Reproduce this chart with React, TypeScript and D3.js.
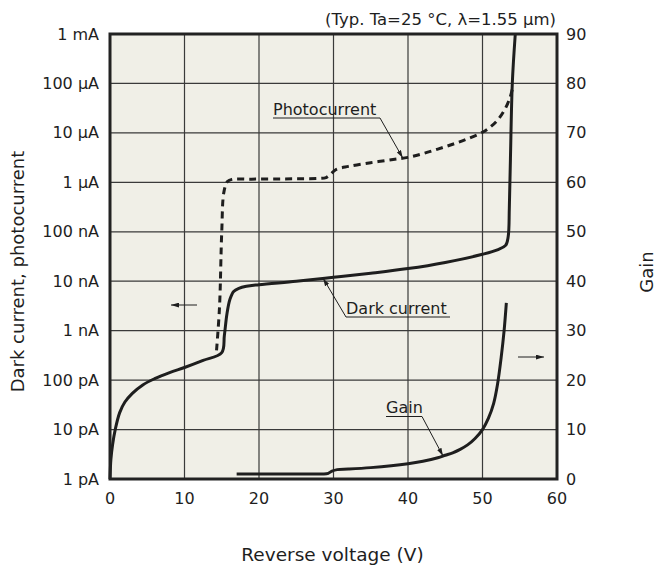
import * as d3 from 'd3';

// Reverse voltage (V) vs dark current (A)
const darkV = [0, 0.12, 0.35, 0.7, 1.3, 2, 3, 4.4, 6, 8, 10, 12.5, 15, 15.35, 15.7, 16.1, 16.6, 17.3, 18.3, 20, 25, 30, 35, 40, 45, 50, 52, 53.1, 53.45, 53.6, 53.75, 54.0, 54.4];
const darkI = [1e-12, 2.5e-12, 5e-12, 1e-11, 2.2e-11, 3.6e-11, 5.4e-11, 8e-11, 1.07e-10, 1.42e-10, 1.8e-10, 2.5e-10, 3.6e-10, 8e-10, 2.2e-9, 4.3e-9, 6.2e-9, 7.2e-9, 7.9e-9, 8.5e-9, 1e-8, 1.2e-8, 1.45e-8, 1.8e-8, 2.4e-8, 3.5e-8, 4.3e-8, 5.3e-8, 8e-8, 3e-7, 3e-6, 1e-4, 1e-3];

// Photocurrent (A), dashed
const photoV = [14.3, 14.7, 15.0, 15.3, 15.8, 16.4, 19, 22, 25, 28.2, 29.0, 29.6, 30.3, 32, 35, 38, 40, 42, 44, 46, 48, 50, 51, 52, 53, 53.7, 54.0];
const photoI = [4e-10, 3e-9, 1e-7, 6.5e-7, 1.05e-6, 1.15e-6, 1.16e-6, 1.17e-6, 1.18e-6, 1.2e-6, 1.25e-6, 1.45e-6, 1.8e-6, 2.1e-6, 2.5e-6, 2.9e-6, 3.2e-6, 3.8e-6, 4.7e-6, 5.9e-6, 7.6e-6, 1.03e-5, 1.3e-5, 1.8e-5, 3e-5, 5.2e-5, 7.7e-5];

// Gain (right axis)
const gainV = [17, 22, 26, 28.5, 29.3, 29.8, 30.5, 32, 35, 40, 42, 44, 45, 46, 47, 48, 49, 50, 50.8, 51.5, 52, 52.5, 52.9, 53.2];
const gainM = [1.0, 1.0, 1.0, 1.02, 1.15, 1.6, 1.9, 2.0, 2.3, 3.1, 3.6, 4.3, 4.8, 5.3, 6.0, 6.9, 8.2, 10.0, 12.3, 15.3, 19, 24.5, 30, 35.6];

const xTicks = [0, 10, 20, 30, 40, 50, 60];
const currentTicks = [1e-12, 1e-11, 1e-10, 1e-9, 1e-8, 1e-7, 1e-6, 1e-5, 1e-4, 1e-3];
const currentLabels = ['1 pA', '10 pA', '100 pA', '1 nA', '10 nA', '100 nA', '1 µA', '10 µA', '100 µA', '1 mA'];
const gainTicks = [0, 10, 20, 30, 40, 50, 60, 70, 80, 90];

const W = 658;
const H = 572;
const left = 110, right = 557, top = 34, bottom = 479;
const font = '"DejaVu Sans", Verdana, sans-serif';
const ink = '#1e1e1e';

export default function App() {
  const x = d3.scaleLinear().domain([0, 60]).range([left, right]);
  const y = d3.scaleLog().domain([1e-12, 1e-3]).range([bottom, top]);
  const yg = d3.scaleLinear().domain([0, 90]).range([bottom, top]);

  const line = d3.line<[number, number]>().curve(d3.curveCatmullRom.alpha(0.5));
  const darkPath = line(darkV.map((v, i) => [x(v), y(darkI[i])]));
  const photoPath = line(photoV.map((v, i) => [x(v), y(photoI[i])]));
  const gainPath = line(gainV.map((v, i) => [x(v), yg(gainM[i])]));

  // leader targets on the curves
  const photoTip: [number, number] = [x(39.3), y(3.1e-6)];
  const darkTip: [number, number] = [x(28.6), y(1.15e-8)];
  const gainTip: [number, number] = [x(44.7), yg(4.65)];

  return (
    <svg width={W} height={H} style={{ position: 'absolute', left: 0, top: 0, background: '#fff' }} fontFamily={font}>
      <defs>
        <marker id="ah" viewBox="0 0 10 6" refX="10" refY="3" markerWidth="8" markerHeight="5" orient="auto" markerUnits="userSpaceOnUse">
          <path d="M0,0 L10,3 L0,6 Z" fill={ink} />
        </marker>
      </defs>

      <rect x={left} y={top} width={right - left} height={bottom - top} fill="#f0efe7" />

      {/* grid */}
      {xTicks.slice(1, -1).map(t => (
        <line key={'gx' + t} x1={x(t)} x2={x(t)} y1={top} y2={bottom} stroke="#3a3a3a" strokeWidth={1.2} />
      ))}
      {currentTicks.slice(1, -1).map(t => (
        <line key={'gy' + t} x1={left} x2={right} y1={y(t)} y2={y(t)} stroke="#3a3a3a" strokeWidth={1.2} />
      ))}

      {/* curves */}
      <path d={photoPath || ''} fill="none" stroke={ink} strokeWidth={3} strokeDasharray="7,5" />
      <path d={darkPath || ''} fill="none" stroke={ink} strokeWidth={3} />
      <path d={gainPath || ''} fill="none" stroke={ink} strokeWidth={3} />

      <rect x={left} y={top} width={right - left} height={bottom - top} fill="none" stroke="#222" strokeWidth={3} />

      {/* tick labels */}
      {currentTicks.map((t, i) => (
        <text key={'l' + t} x={left - 11} y={y(t)} textAnchor="end" dominantBaseline="central" fontSize={16} fill={ink}>
          {currentLabels[i]}
        </text>
      ))}
      {gainTicks.map(t => (
        <text key={'r' + t} x={right + 9} y={yg(t)} dominantBaseline="central" fontSize={16} fill={ink}>
          {t}
        </text>
      ))}
      {xTicks.map(t => (
        <text key={'b' + t} x={x(t)} y={bottom + 25} textAnchor="middle" fontSize={16} fill={ink}>
          {t}
        </text>
      ))}

      {/* axis titles */}
      <text x={(left + right) / 2 - 1} y={561} textAnchor="middle" fontSize={18.5} fill={ink}>Reverse voltage (V)</text>
      <text transform={`translate(24,${(top + bottom) / 2 + 15}) rotate(-90)`} textAnchor="middle" fontSize={18} fill={ink}>
        Dark current, photocurrent
      </text>
      <text transform={`translate(653,272) rotate(-90)`} textAnchor="middle" fontSize={18} fill={ink}>Gain</text>

      <text x={556} y={25} textAnchor="end" fontSize={16.5} fill={ink}>(Typ. Ta=25 °C, λ=1.55 µm)</text>

      {/* annotations */}
      <text x={273} y={115} fontSize={16} fill={ink}>Photocurrent</text>
      <polyline points={`273,118 380,118 ${photoTip[0]},${photoTip[1]}`} fill="none" stroke={ink} strokeWidth={1} markerEnd="url(#ah)" />

      <text x={346} y={314} fontSize={16} fill={ink}>Dark current</text>
      <polyline points={`450,317 346,317 ${darkTip[0]},${darkTip[1]}`} fill="none" stroke={ink} strokeWidth={1} markerEnd="url(#ah)" />

      <text x={386} y={413} fontSize={16} fill={ink}>Gain</text>
      <polyline points={`386,416.5 422,416.5 ${gainTip[0]},${gainTip[1]}`} fill="none" stroke={ink} strokeWidth={1} markerEnd="url(#ah)" />

      {/* axis pointers */}
      <line x1={197} x2={171} y1={305} y2={305} stroke={ink} strokeWidth={1} markerEnd="url(#ah)" />
      <line x1={518} x2={544} y1={357} y2={357} stroke={ink} strokeWidth={1} markerEnd="url(#ah)" />
    </svg>
  );
}
